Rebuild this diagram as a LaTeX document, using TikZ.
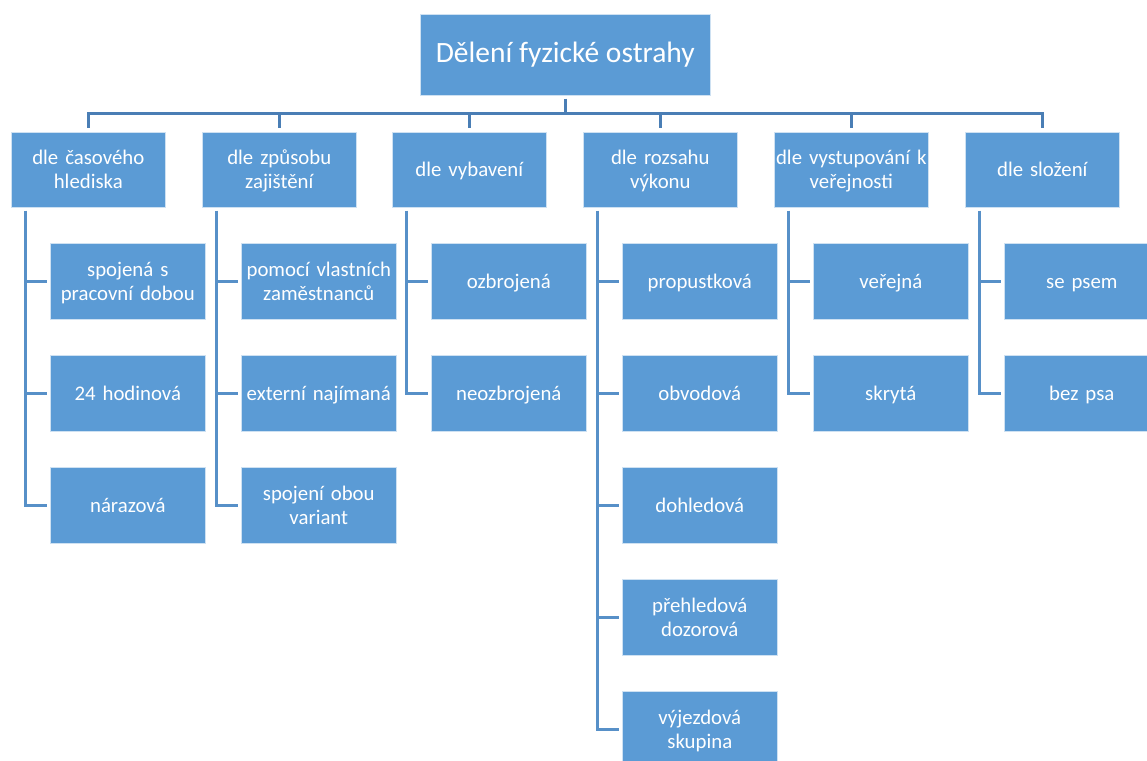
\documentclass[tikz,border=0pt]{standalone}
\usepackage{fontspec}
\setmainfont{Carlito}
\usetikzlibrary{calc}
\definecolor{boxfill}{HTML}{5B9BD5}
\definecolor{buscol}{HTML}{4A7EB5}
\definecolor{linkcol}{HTML}{5790C8}
% invisible rule that evens out line heights inside the boxes
\newcommand\lblstrut{\rule[-3pt]{0pt}{20pt}}
\tikzset{
  box/.style={rectangle, fill=boxfill, draw=white!70!boxfill, line width=0.6pt,
    text=white, align=center, inner sep=0pt, anchor=north west,
    font=\fontsize{20.8}{24}\selectfont,
    execute at begin node=\lblstrut, execute at end node=\lblstrut},
  topbox/.style={box, minimum width=290pt, minimum height=81pt,
    font=\fontsize{29.5}{34}\selectfont},
  catbox/.style={box, minimum width=154pt, minimum height=75pt, text width=154pt},
  leafbox/.style={box, minimum width=155pt, minimum height=76pt, text width=155pt},
  bus/.style={draw=buscol, line width=3pt},
  link/.style={draw=linkcol, line width=3pt}
}
\begin{document}
\begin{tikzpicture}[x=1pt,y=-1pt]
\clip (0,0) rectangle (1147,760);
\fill[white] (0,0) rectangle (1147,760);

% root
\node[topbox] (root) at (420,14) {Dělení fyzické ostrahy};

% categories
\node[catbox] (a) at (11,132)  {dle časového\\hlediska};
\node[catbox] (b) at (202,132) {dle způsobu\\zajištění};
\node[catbox] (c) at (392,132) {dle vybavení};
\node[catbox] (d) at (583,132) {dle rozsahu\\výkonu};
\node[catbox] (e) at (774,132) {dle vystupování k\\veřejnosti};
\node[catbox] (f) at (965,132) {dle složení};

% leaves
\node[leafbox] (a1) at (50,243) {spojená s\\pracovní dobou};
\node[leafbox] (a2) at (50,355) {24 hodinová};
\node[leafbox] (a3) at (50,467) {nárazová};

\node[leafbox] (b1) at (241,243) {pomocí vlastních\\zaměstnanců};
\node[leafbox] (b2) at (241,355) {externí najímaná};
\node[leafbox] (b3) at (241,467) {spojení obou\\variant};

\node[leafbox] (c1) at (431,243) {ozbrojená};
\node[leafbox] (c2) at (431,355) {neozbrojená};

\node[leafbox] (d1) at (622,243) {propustková};
\node[leafbox] (d2) at (622,355) {obvodová};
\node[leafbox] (d3) at (622,467) {dohledová};
\node[leafbox] (d4) at (622,579) {přehledová\\dozorová};
\node[leafbox] (d5) at (622,691) {výjezdová\\skupina};

\node[leafbox] (e1) at (813,243) {veřejná};
\node[leafbox] (e2) at (813,355) {skrytá};

\node[leafbox] (f1) at (1004,243) {se psem};
\node[leafbox] (f2) at (1004,355) {bez psa};

% bus between root and categories
\coordinate (busy) at (0,113);
\draw[bus] ($(root.south)+(0,3)$) -- (root.south |- busy);
\draw[bus, line cap=rect] (a.north |- busy) -- (f.north |- busy);
\foreach \p in {a,b,c,d,e,f}
  \draw[bus] (\p.north |- busy) -- ($(\p.north)+(0,-4)$);

% leaf connectors
\foreach \p/\last/\others in {a/a3/{a1,a2}, b/b3/{b1,b2}, c/c2/{c1}, d/d5/{d1,d2,d3,d4}, e/e2/{e1}, f/f2/{f1}}{
  \coordinate (\p-v) at ($(\p.south west)+(14,3)$);
  \draw[link] (\p-v) |- ($(\last.west)+(-3,0)$);
  \foreach \q in \others
    \draw[link] (\q.west -| \p-v) -- ($(\q.west)+(-3,0)$);
}
\end{tikzpicture}
\end{document}
